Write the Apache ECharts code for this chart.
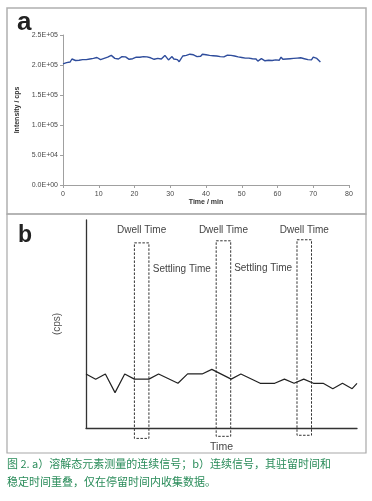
<!DOCTYPE html>
<html><head><meta charset="utf-8">
<script src="https://cdn.jsdelivr.net/npm/echarts@6/dist/echarts.min.js"></script>
<style>html,body{margin:0;padding:0;background:#fff}#c{width:372px;height:501px}</style>
</head><body><div id="c"></div>
<script>
// ---- Panel a data ----
const aTimeStep = 0.5; // min between samples
const aIntensity = [
202000,203000,204000,204500,205000,210000,208000,207500,206500,208000,
207000,209000,210000,209000,211000,210000,212000,211000,213000,212500,
211000,209000,206000,211000,209500,213000,212000,216000,213000,211000,
212500,210000,213000,214000,211500,213500,212000,209500,208000,210500,
211000,213000,214000,213000,211500,214000,212000,213500,210500,212000,
213000,209500,212000,211000,213500,210000,212500,216000,213000,208500,
211000,214000,210000,212500,209000,205500,208000,215000,214500,216000,
215000,218000,215500,217000,215000,214000,216500,214500,218000,216500,
217000,215000,216000,213500,215500,214000,215000,212500,214000,211500,
213500,215000,216500,214500,216000,213500,215000,212000,213500,211000,
212500,210000,211500,209000,211500,213000,210500,208500,210000,206500,
205500,210500,209000,207000,210000,208000,210500,207500,210000,208500,
211000,208000,213000,209500,211500,210000,212500,210500,213000,211000,
212500,211500,213500,212000,214000,210500,212500,209000,211000,208500,
213000,213500,211000,209000,205000
];
const aYTickLabels = ['0.0E+00','5.0E+04','1.0E+05','1.5E+05','2.0E+05','2.5E+05'];
const aXTicks = [0,10,20,30,40,50,60,70,80];

// ---- Panel b data ----
const bTime   = [0,1,2,3,4,5,6.5,7.5,9.5,10.5,12,13,15,16,18,19.5,20.5,21.5,22.5,23.5,24.5,25.5,26.5,27.5,28];
const bSignal = [26,23.4,26,17,26,23.5,23.5,26,21.5,26,26,28.2,23.5,26,21.5,21.5,23.5,21.5,23.5,21.5,21.5,18.9,21.5,18.9,21.5];
// dwell windows: [start, end, top, bottom]
const bDwell = [[5,6.5,89,-5],[13.45,14.95,90,-4],[21.8,23.3,90.5,-3.5]];
const bDwellLabel = 'Dwell Time';
const bDwellLabelY = 95;
const bSettling = [[9.9,76.5],[18.3,77]];
const bSettlingLabel = 'Settling Time';

const aData = aIntensity.map((v,i)=>[i*aTimeStep, v]);
const bData = bTime.map((t,i)=>[t,bSignal[i]]);

const axisGray = '#a0a0a0';
const labGray = '#484848';
const chart = echarts.init(document.getElementById('c'), null, {renderer:'canvas'});
chart.setOption({
  animation:false,
  backgroundColor:'#fff',
  grid:[
    {left:63, top:35, width:286, height:150},
    {left:86, top:220, width:271, height:208}
  ],
  xAxis:[
    {gridIndex:0, type:'value', min:0, max:80, interval:10,
     name:'Time / min', nameLocation:'middle', nameGap:14,
     nameTextStyle:{fontFamily:'Liberation Sans', fontSize:7, fontWeight:'bold', color:'#333'},
     axisLine:{lineStyle:{color:axisGray, width:1}}, axisTick:{length:3, lineStyle:{color:axisGray}},
     axisLabel:{fontFamily:'Liberation Sans', fontSize:7, color:labGray, margin:6}, splitLine:{show:false}},
    {gridIndex:1, type:'value', min:0, max:28,
     name:'Time', nameLocation:'middle', nameGap:14,
     nameTextStyle:{fontFamily:'Liberation Sans', fontSize:10.5, color:'#444'},
     axisLine:{lineStyle:{color:'#333', width:1.3}}, axisTick:{show:false}, axisLabel:{show:false}, splitLine:{show:false}}
  ],
  yAxis:[
    {gridIndex:0, type:'value', min:0, max:250000, interval:50000,
     name:'Intensity / cps', nameLocation:'middle', nameGap:38,
     nameTextStyle:{fontFamily:'Liberation Sans', fontSize:7, fontWeight:'bold', color:'#333'},
     axisLine:{show:true, lineStyle:{color:axisGray, width:1}}, axisTick:{show:true, length:3, lineStyle:{color:axisGray}},
     axisLabel:{fontFamily:'Liberation Sans', fontSize:7, color:labGray, margin:5,
       formatter:(v)=>aYTickLabels[Math.round(v/50000)]}, splitLine:{show:false}},
    {gridIndex:1, type:'value', min:0, max:100,
     name:'(cps)', nameLocation:'middle', nameGap:24,
     nameTextStyle:{fontFamily:'Liberation Sans', fontSize:10, color:'#555'},
     axisLine:{show:true, lineStyle:{color:'#333', width:1.3}}, axisTick:{show:false}, axisLabel:{show:false}, splitLine:{show:false}}
  ],
  series:[
    {type:'line', xAxisIndex:0, yAxisIndex:0, data:aData, showSymbol:false,
     lineStyle:{color:'#2f4d9c', width:1.4}},
    {type:'line', xAxisIndex:1, yAxisIndex:1, data:bData, showSymbol:false,
     lineStyle:{color:'#222', width:1.2}},
    {type:'custom', xAxisIndex:1, yAxisIndex:1, clip:false, data:bDwell,
     renderItem:(params, api)=>{
       const p0 = api.coord([api.value(0), api.value(2)]);
       const p1 = api.coord([api.value(1), api.value(3)]);
       const lab = api.coord([(api.value(0)+api.value(1))/2, bDwellLabelY]);
       return {type:'group', children:[
         {type:'rect', shape:{x:p0[0], y:p0[1], width:p1[0]-p0[0], height:p1[1]-p0[1]},
          style:{fill:'none', stroke:'#333', lineWidth:1, lineDash:[2.5,1.5]}},
         {type:'text', x:lab[0], y:lab[1], style:{text:bDwellLabel, fontFamily:'Liberation Sans', fontSize:10,
           fill:'#444', align:'center', verticalAlign:'middle'}}
       ]};
     }},
    {type:'custom', xAxisIndex:1, yAxisIndex:1, clip:false, data:bSettling,
     renderItem:(params, api)=>{
       const p = api.coord([api.value(0), api.value(1)]);
       return {type:'text', x:p[0], y:p[1], style:{text:bSettlingLabel, fontFamily:'Liberation Sans', fontSize:10,
         fill:'#444', align:'center', verticalAlign:'middle'}};
     }}
  ],
  graphic:[
    {type:'rect', shape:{x:7, y:8, width:359, height:206}, style:{fill:'none', stroke:'#b0b0b0', lineWidth:1.5}, silent:true},
    {type:'rect', shape:{x:7, y:214, width:359, height:239}, style:{fill:'none', stroke:'#a8a8a8', lineWidth:1.2}, silent:true},
    {type:'text', x:17, y:23, style:{text:'a', fontFamily:'Liberation Sans', fontSize:26, fontWeight:'bold', fill:'#222', verticalAlign:'middle'}},
    {type:'text', x:18, y:236, style:{text:'b', fontFamily:'Liberation Sans', fontSize:23, fontWeight:'bold', fill:'#222', verticalAlign:'middle'}},
    {type:'text', x:7, y:464, style:{text:'图 2. a）溶解态元素测量的连续信号；b）连续信号，其驻留时间和', fontFamily:'Noto Sans CJK SC', fontSize:11, fill:'#2a8c5a', verticalAlign:'middle'}},
    {type:'text', x:7, y:482, style:{text:'稳定时间重叠，仅在停留时间内收集数据。', fontFamily:'Noto Sans CJK SC', fontSize:11, fill:'#2a8c5a', verticalAlign:'middle'}}
  ]
});
</script></body></html>
